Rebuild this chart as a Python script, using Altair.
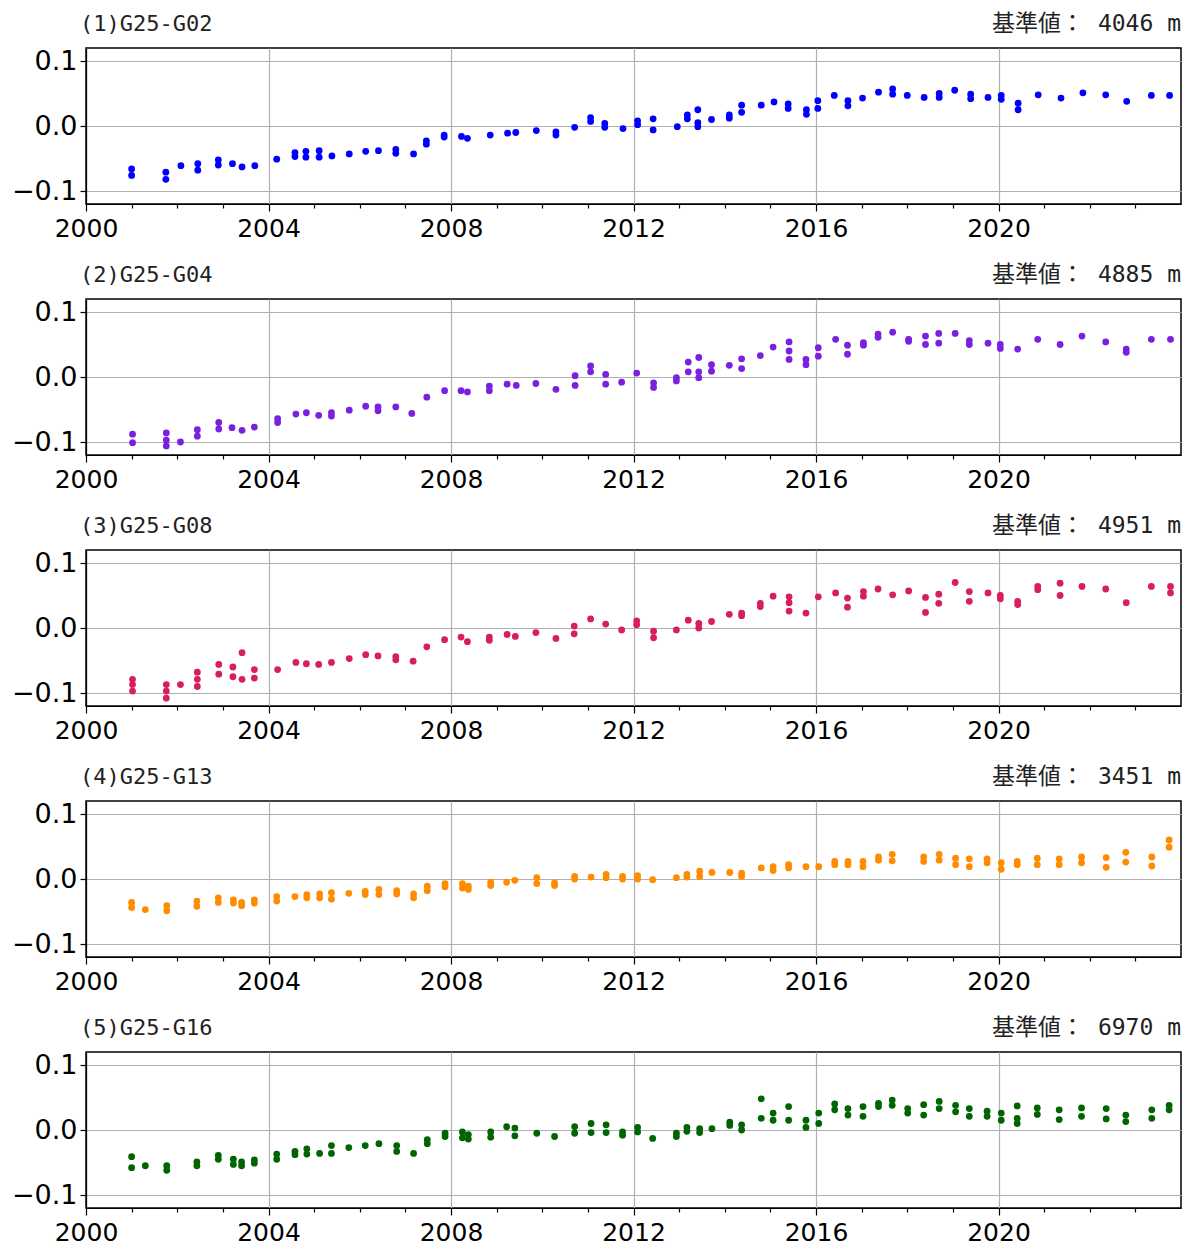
import altair as alt
import pandas as pd

# ---------------- data ----------------
names = ["(1)G25-G02", "(2)G25-G04", "(3)G25-G08", "(4)G25-G13", "(5)G25-G16"]
base_values = ["基準値：  4046 m", "基準値：  4885 m", "基準値：  4951 m", "基準値：  3451 m", "基準値：  6970 m"]
colors = ["#0000ff", "#7a20e0", "#d81e5b", "#ff8c00", "#006400"]

t1 = [2001.0, 2001.75, 2002.08, 2002.45, 2002.9, 2003.21, 2003.42, 2003.7, 2004.18, 2004.58,
      2004.82, 2005.11, 2005.39, 2005.77, 2006.13, 2006.41, 2006.79, 2007.18, 2007.46, 2007.85,
      2008.23, 2008.36, 2008.86, 2009.24, 2009.42, 2009.87, 2010.3, 2010.71, 2011.06, 2011.37,
      2011.77, 2012.09, 2012.43, 2012.96, 2013.18, 2013.41, 2013.71, 2014.1, 2014.37, 2014.8,
      2015.08, 2015.39, 2015.79, 2016.04, 2016.4, 2016.7, 2017.02, 2017.37, 2017.68, 2018.0,
      2018.37, 2018.7, 2019.04, 2019.39, 2019.77, 2020.06, 2020.43, 2020.87, 2021.37, 2021.85,
      2022.35, 2022.81, 2023.35, 2023.75]
v1 = [[-0.066, -0.076], [-0.071, -0.082], [-0.061], [-0.058, -0.068], [-0.052, -0.060], [-0.058],
      [-0.063], [-0.061], [-0.051], [-0.041, -0.047], [-0.039, -0.048], [-0.038, -0.048], [-0.046],
      [-0.043], [-0.039], [-0.038], [-0.036, -0.042], [-0.043], [-0.023, -0.028], [-0.014, -0.017],
      [-0.016], [-0.019], [-0.014], [-0.011], [-0.010], [-0.007], [-0.009, -0.014], [-0.002],
      [0.013, 0.007], [0.004, -0.002], [-0.004], [0.008, 0.002], [0.011, -0.006], [-0.001],
      [0.017, 0.011], [0.025, 0.005, -0.001], [0.010], [0.017, 0.012], [0.032, 0.021], [0.032],
      [0.037], [0.034, 0.027], [0.025, 0.018], [0.039, 0.027], [0.047], [0.039, 0.031], [0.043],
      [0.052], [0.057, 0.049], [0.047], [0.044], [0.050, 0.044], [0.055], [0.049, 0.042], [0.044],
      [0.047, 0.041], [0.035, 0.025], [0.048], [0.043], [0.051], [0.048], [0.038], [0.047], [0.047]]

t2 = [2001.02, 2001.76, 2002.07, 2002.44, 2002.91, 2003.2, 2003.42, 2003.69, 2004.2, 2004.6,
      2004.83, 2005.1, 2005.38, 2005.77, 2006.13, 2006.4, 2006.79, 2007.14, 2007.47, 2007.86,
      2008.22, 2008.36, 2008.84, 2009.23, 2009.43, 2009.86, 2010.3, 2010.72, 2011.06, 2011.39,
      2011.74, 2012.07, 2012.44, 2012.94, 2013.2, 2013.43, 2013.71, 2014.1, 2014.37, 2014.78,
      2015.06, 2015.41, 2015.78, 2016.05, 2016.43, 2016.69, 2017.04, 2017.36, 2017.68, 2018.03,
      2018.4, 2018.69, 2019.05, 2019.36, 2019.77, 2020.04, 2020.42, 2020.86, 2021.35, 2021.83,
      2022.35, 2022.8, 2023.35, 2023.77]
v2 = [[-0.088, -0.101], [-0.086, -0.097, -0.106], [-0.100], [-0.081, -0.091], [-0.070, -0.080],
      [-0.078], [-0.082], [-0.077], [-0.064, -0.070], [-0.057], [-0.055], [-0.059], [-0.055, -0.060],
      [-0.051], [-0.045], [-0.046, -0.052], [-0.046], [-0.056], [-0.031], [-0.021], [-0.021],
      [-0.023], [-0.014, -0.021], [-0.011], [-0.013], [-0.010], [-0.019], [0.002, -0.013],
      [0.017, 0.008], [0.004, -0.011], [-0.008], [0.006], [-0.009, -0.016], [-0.001, -0.006],
      [0.023, 0.008], [0.030, 0.008, -0.001], [0.019, 0.009], [0.018], [0.028, 0.013], [0.033],
      [0.046], [0.054, 0.040, 0.027], [0.027, 0.019], [0.045, 0.032], [0.058], [0.049, 0.035],
      [0.053, 0.049], [0.066, 0.061], [0.069], [0.058, 0.055], [0.063, 0.050], [0.067, 0.052],
      [0.067], [0.056, 0.050], [0.052], [0.050, 0.044], [0.043], [0.058], [0.050], [0.063],
      [0.054], [0.043, 0.038], [0.058], [0.058]]

t3 = [2001.02, 2001.76, 2002.07, 2002.44, 2002.91, 2003.22, 2003.42, 2003.69, 2004.2, 2004.6,
      2004.83, 2005.1, 2005.38, 2005.77, 2006.13, 2006.4, 2006.79, 2007.17, 2007.47, 2007.86,
      2008.22, 2008.36, 2008.84, 2009.23, 2009.41, 2009.86, 2010.3, 2010.7, 2011.06, 2011.39,
      2011.74, 2012.07, 2012.44, 2012.94, 2013.2, 2013.43, 2013.71, 2014.1, 2014.37, 2014.78,
      2015.06, 2015.41, 2015.78, 2016.05, 2016.43, 2016.69, 2017.04, 2017.36, 2017.68, 2018.03,
      2018.4, 2018.69, 2019.05, 2019.36, 2019.77, 2020.04, 2020.42, 2020.86, 2021.35, 2021.83,
      2022.35, 2022.8, 2023.35, 2023.77]
v3 = [[-0.079, -0.087, -0.097], [-0.087, -0.097, -0.108], [-0.087], [-0.068, -0.079, -0.090],
      [-0.056, -0.071], [-0.060, -0.075], [-0.038, -0.079], [-0.064, -0.077], [-0.064], [-0.053],
      [-0.055], [-0.056], [-0.053], [-0.047], [-0.041], [-0.043], [-0.044, -0.049], [-0.051],
      [-0.029], [-0.018], [-0.014], [-0.021], [-0.014, -0.019], [-0.010], [-0.013], [-0.007],
      [-0.016], [0.003, -0.009], [0.014], [0.006], [-0.003], [0.011, 0.005], [-0.005, -0.015],
      [-0.003], [0.012], [0.007, 0.000], [0.010], [0.021], [0.023, 0.019], [0.038, 0.033], [0.049],
      [0.048, 0.039, 0.026], [0.023], [0.048], [0.054], [0.046, 0.032], [0.056, 0.049], [0.060],
      [0.051], [0.057], [0.047, 0.024], [0.052, 0.038], [0.070], [0.056, 0.041], [0.054],
      [0.050, 0.045], [0.041, 0.036], [0.064, 0.059], [0.069, 0.050], [0.064], [0.060], [0.039],
      [0.064], [0.064, 0.054]]

t4 = [2001.0, 2001.3, 2001.77, 2002.43, 2002.9, 2003.23, 2003.41, 2003.69, 2004.18, 2004.58,
      2004.84, 2005.12, 2005.38, 2005.76, 2006.12, 2006.42, 2006.81, 2007.18, 2007.48, 2007.87,
      2008.25, 2008.38, 2008.87, 2009.22, 2009.4, 2009.88, 2010.27, 2010.71, 2011.07, 2011.4,
      2011.76, 2012.09, 2012.42, 2012.94, 2013.17, 2013.45, 2013.72, 2014.11, 2014.37, 2014.8,
      2015.06, 2015.4, 2015.78, 2016.06, 2016.41, 2016.7, 2017.03, 2017.37, 2017.67, 2018.36,
      2018.7, 2019.06, 2019.36, 2019.75, 2020.06, 2020.41, 2020.85, 2021.33, 2021.82, 2022.36,
      2022.79, 2023.36, 2023.74]
v4 = [[-0.036, -0.044], [-0.047], [-0.041, -0.049], [-0.034, -0.042], [-0.029, -0.036],
      [-0.032, -0.037], [-0.036, -0.041], [-0.032, -0.037], [-0.027, -0.034], [-0.027],
      [-0.024, -0.029], [-0.023, -0.029], [-0.021, -0.031], [-0.022], [-0.019, -0.024],
      [-0.016, -0.024], [-0.018, -0.023], [-0.023, -0.029], [-0.011, -0.018], [-0.007, -0.012],
      [-0.007, -0.014], [-0.011, -0.016], [-0.005, -0.010], [-0.005], [-0.002], [0.002, -0.007],
      [-0.006, -0.010], [0.004, 0.000], [0.003], [0.007, 0.002], [0.004, 0.000], [0.005, 0.000],
      [-0.001], [0.002], [0.007, 0.003], [0.012, 0.004], [0.010], [0.010], [0.009, 0.004], [0.017],
      [0.019, 0.013], [0.022, 0.017], [0.019], [0.019], [0.027, 0.022], [0.027, 0.022],
      [0.027, 0.019], [0.034, 0.029], [0.038, 0.028], [0.034, 0.027], [0.038, 0.029],
      [0.032, 0.022], [0.031, 0.019], [0.031, 0.025], [0.025, 0.015], [0.027, 0.022],
      [0.032, 0.022], [0.031, 0.022], [0.034, 0.025], [0.033, 0.018], [0.041, 0.026],
      [0.034, 0.020], [0.060, 0.049]]

t5 = [2001.0, 2001.3, 2001.77, 2002.43, 2002.9, 2003.23, 2003.41, 2003.69, 2004.18, 2004.58,
      2004.84, 2005.12, 2005.38, 2005.76, 2006.12, 2006.42, 2006.81, 2007.18, 2007.48, 2007.87,
      2008.25, 2008.38, 2008.87, 2009.22, 2009.4, 2009.88, 2010.27, 2010.71, 2011.07, 2011.4,
      2011.76, 2012.09, 2012.42, 2012.94, 2013.17, 2013.45, 2013.72, 2014.11, 2014.37, 2014.8,
      2015.06, 2015.4, 2015.78, 2016.06, 2016.41, 2016.7, 2017.03, 2017.37, 2017.67, 2018.01,
      2018.36, 2018.7, 2019.06, 2019.36, 2019.75, 2020.06, 2020.41, 2020.85, 2021.33, 2021.82,
      2022.36, 2022.79, 2023.36, 2023.74]
v5 = [[-0.041, -0.058], [-0.055], [-0.055, -0.062], [-0.049, -0.055], [-0.039, -0.045],
      [-0.045, -0.053], [-0.049, -0.055], [-0.046, -0.051], [-0.037, -0.045], [-0.033, -0.038],
      [-0.029, -0.037], [-0.036], [-0.024, -0.036], [-0.027], [-0.024], [-0.021], [-0.024, -0.033],
      [-0.036], [-0.015, -0.021], [-0.005, -0.010], [-0.003, -0.012], [-0.007, -0.014],
      [-0.003, -0.011], [0.005], [0.003, -0.009], [-0.005], [-0.010], [0.005, -0.005],
      [0.010, -0.004], [0.008, -0.004], [-0.003, -0.008], [0.004, -0.003], [-0.013],
      [-0.005, -0.010], [0.004, -0.002], [0.002, -0.004], [0.002], [0.012, 0.007], [0.008, 0.000],
      [0.048, 0.018], [0.026, 0.015], [0.036, 0.015], [0.015, 0.004], [0.026, 0.010],
      [0.040, 0.031], [0.033, 0.023], [0.036, 0.021], [0.041, 0.036], [0.046, 0.038],
      [0.033, 0.026], [0.039, 0.023], [0.044, 0.033], [0.038, 0.028], [0.033, 0.021],
      [0.029, 0.021], [0.026, 0.015], [0.037, 0.018, 0.010], [0.034, 0.024], [0.031, 0.016],
      [0.034, 0.021], [0.033, 0.017], [0.023, 0.013], [0.031, 0.018], [0.038, 0.031]]

series_t = [t1, t2, t3, t4, t5]
series_v = [v1, v2, v3, v4, v5]

# ---------------- chart ----------------
W, H = 1095, 156
x_ticks = list(range(2000, 2024))
major = "datum.value % 4 === 0"
TXT_FONT = "DejaVu Sans Mono, Noto Sans CJK JP"

x_axis = alt.Axis(
    values=x_ticks,
    labelExpr=f"{major} ? format(datum.value, 'd') : ''",
    tickSize={"condition": {"test": major, "value": 7}, "value": 4},
    gridOpacity={"condition": {"test": major, "value": 1}, "value": 0},
    title=None, labelPadding=5, labelOverlap=False, labelFlush=False, grid=True,
    labelFontSize=25,
)
y_axis = alt.Axis(
    values=[-0.1, 0.0, 0.1], format=".1f", title=None, tickSize=6, labelPadding=3,
    minExtent=77, maxExtent=77, grid=True, labelFontSize=27,
)

panels = []
for name, bv, col, ts, vs in zip(names, base_values, colors, series_t, series_v):
    rows = [{"year": t, "value": v} for t, vals in zip(ts, vs) for v in vals]
    df = pd.DataFrame(rows)
    pts = alt.Chart(df).mark_circle(size=46, opacity=1, color=col).encode(
        x=alt.X("year:Q", scale=alt.Scale(domain=[2000, 2024], nice=False, zero=False), axis=x_axis),
        y=alt.Y("value:Q", scale=alt.Scale(domain=[-0.12, 0.12], nice=False, zero=False), axis=y_axis),
    )
    left = alt.Chart(pd.DataFrame({"t": [name]})).mark_text(
        align="left", baseline="middle", font=TXT_FONT, fontSize=22, color="#222222",
    ).encode(text="t:N", x=alt.value(-6), y=alt.value(-24))
    right = alt.Chart(pd.DataFrame({"t": [bv]})).mark_text(
        align="right", baseline="middle", font=TXT_FONT, fontSize=23, color="#222222",
    ).encode(text="t:N", x=alt.value(W), y=alt.value(-24))
    panels.append(alt.layer(pts, left, right).properties(width=W, height=H))

chart = alt.vconcat(*panels, spacing=21).properties(
    padding={"left": 0, "top": 4, "right": 0, "bottom": 5}
).configure_view(
    stroke="black", strokeWidth=1.5
).configure_axis(
    domainColor="black", domainWidth=1.2, tickColor="black", tickWidth=1.2,
    labelColor="black", labelFont="DejaVu Sans",
    gridColor="#b0b0b0", gridWidth=1.2,
)

chart.save("out.html", embed_options={"renderer": "svg", "actions": False})
